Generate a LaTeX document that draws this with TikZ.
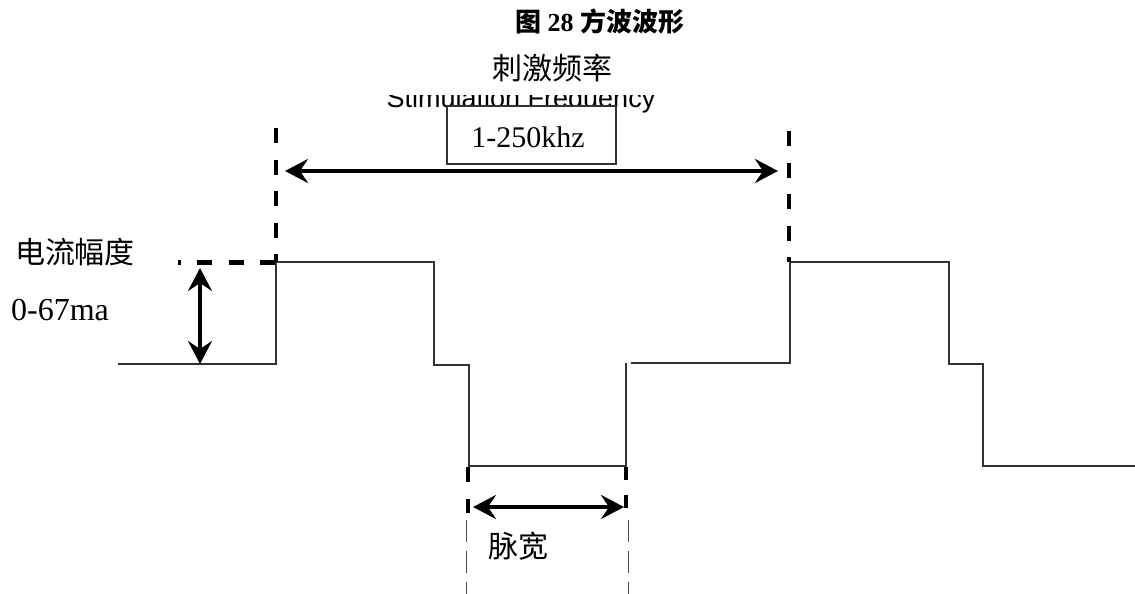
\documentclass[tikz,border=0pt]{standalone}
\usepackage{fontspec}
\setmainfont{Liberation Serif}
\newfontfamily\cjk{Noto Sans CJK SC}
\newfontfamily\sansf{Liberation Sans}
\usetikzlibrary{arrows.meta}
\begin{document}
\begin{tikzpicture}[x=1pt,y=-1pt,
  wave/.style={line width=1.5pt, draw=black!80},
  bigdash/.style={line width=4.5pt, dash pattern=on 15pt off 16.5pt},
  dimarrow/.style={line width=4pt, {Stealth[length=23pt,width=24pt,inset=8pt]}-{Stealth[length=23pt,width=24pt,inset=8pt]}},
  thindash/.style={line width=0.8pt, draw=black!70, dash pattern=on 22pt off 9pt},
  lbl/.style={inner sep=0pt}]
\useasboundingbox (0,0) rectangle (1135,594);

% title and labels
\node[lbl,font=\fontsize{26}{30}\selectfont\bfseries] (title) at (600,22) {\cjk 图 \rmfamily 28 \cjk 方波波形};
\node[lbl,font=\fontsize{30}{34}\selectfont\cjk] (freqcn) at (552,68) {刺激频率};
\begin{scope}
  \clip (370,95) rectangle (680,125);
  \node[lbl,anchor=base,font=\fontsize{27}{30}\selectfont\sansf] (freqen) at (521,107) {Stimulation Frequency};
\end{scope}
\node[draw=black!80,line width=1.2pt,fill=white,minimum width=169pt,minimum height=58pt,inner sep=0pt] (freqbox) at (531.5,135) {};
\node[lbl,font=\fontsize{30}{34}\selectfont] (freqval) at (528,137) {1-250khz};
\node[lbl,font=\fontsize{30}{34}\selectfont\cjk] (ampcn) at (75,252) {电流幅度};
\node[lbl,font=\fontsize{32}{36}\selectfont] (ampval) at (60,310) {0-67ma};
\node[lbl,font=\fontsize{30}{34}\selectfont\cjk] (pwcn) at (518,546) {脉宽};

% waveform corners
\coordinate (w0) at (118,364);
\coordinate (w1) at (276,364);
\coordinate (w2) at (276,262);
\coordinate (w3) at (434,262);
\coordinate (w4) at (434,365);
\coordinate (w5) at (469,365);
\coordinate (w6) at (469,466);
\coordinate (w7) at (626,466);
\coordinate (w8) at (626,363);
\coordinate (v0) at (631,363);
\coordinate (v1) at (790,363);
\coordinate (v2) at (790,262);
\coordinate (v3) at (949,262);
\coordinate (v4) at (949,364);
\coordinate (v5) at (983,364);
\coordinate (v6) at (983,466);
\coordinate (v7) at (1135,466);
\draw[wave] (w0) -- (w1) -- (w2) -- (w3) -- (w4) -- (w5) -- (w6) -- (w7) -- (w8);
\draw[wave] (v0) -- (v1) -- (v2) -- (v3) -- (v4) -- (v5) -- (v6) -- (v7);

% thick dashed guides
\coordinate (lt) at (276,128);
\coordinate (lb) at (276,262);
\coordinate (rt) at (789,131);
\coordinate (rb) at (789,262);
\coordinate (hr) at (275,262.5);
\coordinate (hl) at (178,262.5);
\draw[bigdash] (lt) -- (lb);
\draw[bigdash] (rt) -- (rb);
\draw[bigdash] (hr) -- (hl);
\coordinate (bl1) at (468,467);
\coordinate (bl2) at (468,513);
\coordinate (br1) at (626,467);
\coordinate (br2) at (626,513);
\draw[bigdash, dash pattern=on 15pt off 17pt] (bl1) -- (bl2);
\draw[bigdash, dash pattern=on 13pt off 15pt] (br1) -- (br2);

% thin dashed extensions
\coordinate (tl1) at (466,520);
\coordinate (tl2) at (466,594);
\coordinate (tr1) at (628,520);
\coordinate (tr2) at (628,594);
\draw[thindash] (tl1) -- (tl2);
\draw[thindash] (tr1) -- (tr2);

% dimension arrows
\coordinate (fa1) at (285,171);
\coordinate (fa2) at (778,171);
\draw[dimarrow] (fa1) -- (fa2);
\coordinate (aa1) at (200,268);
\coordinate (aa2) at (200,364);
\draw[dimarrow] (aa1) -- (aa2);
\coordinate (pa1) at (473,507);
\coordinate (pa2) at (624,507);
\draw[dimarrow] (pa1) -- (pa2);
\end{tikzpicture}
\end{document}
